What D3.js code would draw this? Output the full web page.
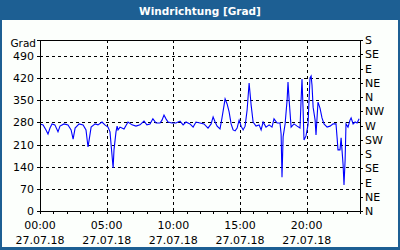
<!DOCTYPE html>
<html>
<head>
<meta charset="utf-8">
<script src="https://cdn.jsdelivr.net/npm/d3@7"></script>
<style>
body{margin:0;padding:0;background:#fff}
svg{display:block}
text{font-family:"DejaVu Sans",sans-serif}
</style>
</head>
<body>
<script>
var width=400, height=250
var padding=[40,40,40,39] // left,right,top,bottom

// readings: time of day and wind direction in degrees
var times=["00:00","00:14","00:27","00:36","00:45","00:54","01:07","01:21","01:30","01:48",
 "02:06","02:20","02:29","02:38","02:56","03:14","03:27","03:36","03:41","03:50",
 "04:08","04:21","04:39","04:52","05:06","05:15","05:24","05:29","05:33","05:42",
 "05:47","05:51","06:00","06:18","06:36","06:54","07:12","07:30","07:48","08:01",
 "08:15","08:28","08:42","09:00","09:09","09:18","09:27","09:36","09:54","10:12",
 "10:30","10:44","10:57","11:15","11:29","11:42","12:00","12:18","12:36","12:50",
 "12:59","13:08","13:17","13:30","13:39","13:53","14:02","14:11","14:20","14:29",
 "14:38","14:47","14:56","15:05","15:14","15:23","15:32","15:41","15:50","15:59",
 "16:12","16:26","16:35","16:44","16:57","17:11","17:24","17:33","17:47","18:00",
 "18:05","18:09","18:14","18:23","18:32","18:36","18:41","18:50","19:03","19:17",
 "19:30","19:35","19:39","19:44","19:48","19:57","20:06","20:15","20:20","20:24",
 "20:29","20:38","20:42","20:51","21:00","21:09","21:18","21:32","21:45","21:59",
 "22:12","22:17","22:21","22:30","22:35","22:39","22:44","22:48","22:53","22:57",
 "23:06","23:15","23:20","23:29","23:38","23:47","23:56"]
var values=[275,272,256,243,262,275,272,250,268,275,
 272,256,227,262,275,272,256,202,224,265,
 275,272,281,272,265,250,177,136,193,250,
 268,256,265,259,281,272,268,272,284,272,
 275,291,278,278,287,303,291,281,278,278,
 284,272,281,275,265,281,278,275,262,275,
 297,281,268,259,294,354,338,313,275,256,
 253,262,287,268,256,268,319,404,335,281,
 268,272,256,281,265,272,265,291,278,278,
 243,107,234,275,351,407,351,265,275,268,
 262,351,417,319,224,237,272,420,426,398,
 328,287,240,344,325,294,275,265,268,275,
 275,231,193,193,231,193,145,82,161,275,
 265,287,294,275,281,278,291]

var leftTicks=[0,70,140,210,280,350,420,490]
var rightTicks=[0,45,90,135,180,225,270,315,360,405,450,495,540]
var rightLabels=["N","NE","E","SE","S","SW","W","NW","N","NE","E","SE","S"]
var hourTicks=d3.range(0,25)
var majorHours=[0,5,10,15,20]
var dateLabel="27.07.18"
var title="Windrichtung [Grad]"
var unit="Grad"

function toHours(s){var p=s.split(":");return +p[0]+(+p[1])/60}
var data=times.map(function(t,i){return [toHours(t),values[i]]})

var svg=d3.select("body").append("svg").attr("width",width).attr("height",height)

// frame and title bar
svg.append("rect").attr("width",width).attr("height",height).attr("fill","#1d5f93")
svg.append("rect").attr("x",2).attr("y",20).attr("width",width-4).attr("height",height-23).attr("fill","#fcfffc")
svg.append("text").attr("x",width/2).attr("y",15).attr("text-anchor","middle")
	.attr("fill","#fff").attr("font-weight","bold").attr("font-size","10.5px").text(title)

var scaleX=d3.scaleLinear().domain([0,24]).range([padding[0],width-padding[1]])
var scaleY=d3.scaleLinear().domain([0,540]).range([height-padding[3],padding[2]])

// grid
var grid=svg.append("g").attr("stroke","#000").attr("stroke-dasharray","3,3").attr("shape-rendering","crispEdges")
grid.selectAll("line.h").data(leftTicks.filter(function(d){return d>0})).enter().append("line")
	.attr("x1",padding[0]).attr("x2",width-padding[1])
	.attr("y1",function(d){return Math.round(scaleY(d))+0.5}).attr("y2",function(d){return Math.round(scaleY(d))+0.5})
grid.selectAll("line.v").data(majorHours.filter(function(d){return d>0})).enter().append("line")
	.attr("y1",padding[2]).attr("y2",height-padding[3])
	.attr("x1",function(d){return Math.round(scaleX(d))+0.5}).attr("x2",function(d){return Math.round(scaleX(d))+0.5})

// top border
svg.append("line").attr("x1",padding[0]).attr("x2",width-padding[1]).attr("y1",padding[2]+0.5).attr("y2",padding[2]+0.5)
	.attr("stroke","#000").attr("shape-rendering","crispEdges")

// data line
var line=d3.line().x(function(d){return scaleX(d[0])}).y(function(d){return scaleY(d[1])})
svg.append("path").datum(data).attr("d",line).attr("fill","none").attr("stroke","#0000ff").attr("stroke-width",1.1)

// axes
var yAxis=d3.axisLeft(scaleY).tickValues(leftTicks).tickSize(3).tickPadding(3)
var gy=svg.append("g").attr("transform","translate("+padding[0]+",0)").call(yAxis)

var yAxisR=d3.axisRight(scaleY).tickValues(rightTicks).tickSize(3).tickPadding(2)
	.tickFormat(function(d,i){return rightLabels[i]})
var gr=svg.append("g").attr("transform","translate("+(width-padding[1])+",0)").call(yAxisR)

var xAxis=d3.axisBottom(scaleX).tickValues(hourTicks).tickSize(3).tickFormat("")
var gx=svg.append("g").attr("transform","translate(0,"+(height-padding[3])+")").call(xAxis)

;[gy,gr,gx].forEach(function(g){
	g.select(".domain").attr("stroke","#000").attr("shape-rendering","crispEdges")
	g.selectAll(".tick line").attr("stroke","#000").attr("shape-rendering","crispEdges")
	g.selectAll("text").attr("fill","#000").attr("font-size","11px").attr("font-family","DejaVu Sans")
})

svg.append("text").attr("x",padding[0]-4).attr("y",47).attr("text-anchor","end").attr("font-size","10.5px").text(unit)

// x labels: time and date
var xl=svg.append("g").selectAll("g").data(majorHours).enter().append("g")
	.attr("transform",function(d){return "translate("+scaleX(d)+",0)"})
xl.append("text").attr("y",229).attr("text-anchor","middle").attr("font-size","11px")
	.text(function(d){return (d<10?"0":"")+d+":00"})
xl.append("text").attr("y",244).attr("text-anchor","middle").attr("font-size","11px").text(dateLabel)
</script>
</body>
</html>
